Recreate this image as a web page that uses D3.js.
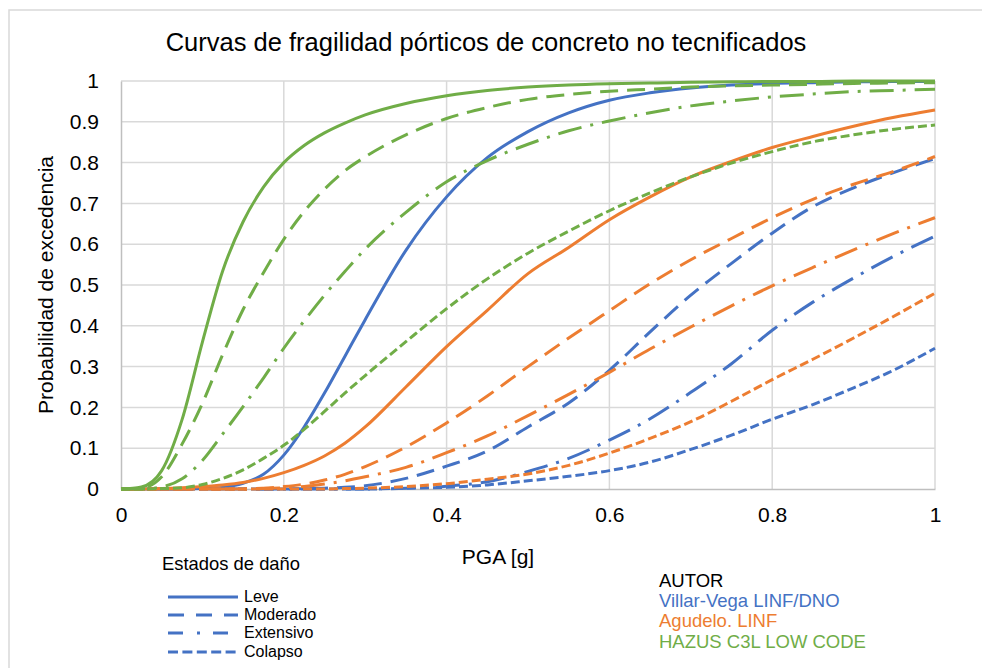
<!DOCTYPE html>
<html><head><meta charset="utf-8">
<script src="https://cdn.jsdelivr.net/npm/d3@7"></script>
<style>
html,body{margin:0;padding:0;background:#fff;}
svg{display:block;}
text{font-family:"Liberation Sans",Arial,sans-serif;}
</style></head>
<body>
<svg id="chart" width="982" height="668"></svg>
<script>
// ---------- DATA ----------
const pga = [0,0.025,0.05,0.075,0.1,0.125,0.15,0.175,0.2,0.225,0.25,0.275,0.3,0.35,0.4,0.45,0.5,0.55,0.6,0.65,0.7,0.75,0.8,0.85,0.9,0.95,1.0];

const villarLeve      = [0,0,0,0,0.001,0.004,0.014,0.036,0.083,0.152,0.235,0.325,0.415,0.585,0.716,0.812,0.876,0.922,0.953,0.971,0.983,0.99,0.994,0.996,0.998,0.999,0.999];
const villarModerado  = [0,0,0,0,0,0,0,0,0,0.001,0.002,0.004,0.008,0.026,0.056,0.093,0.152,0.211,0.291,0.385,0.475,0.553,0.627,0.692,0.738,0.776,0.81];
const villarExtensivo = [0,0,0,0,0,0,0,0,0,0,0,0,0,0.002,0.007,0.018,0.043,0.075,0.12,0.172,0.237,0.307,0.389,0.458,0.517,0.571,0.62];
const villarColapso   = [0,0,0,0,0,0,0,0,0,0,0,0,0,0.002,0.004,0.01,0.02,0.031,0.045,0.066,0.097,0.132,0.171,0.207,0.248,0.292,0.345];

const agudeloLeve      = [0,0,0.001,0.003,0.006,0.01,0.016,0.026,0.04,0.058,0.081,0.112,0.152,0.25,0.349,0.438,0.528,0.592,0.66,0.716,0.765,0.803,0.837,0.864,0.889,0.911,0.929];
const agudeloModerado  = [0,0,0,0,0,0,0,0.002,0.006,0.012,0.022,0.036,0.055,0.103,0.162,0.228,0.3,0.37,0.437,0.503,0.562,0.614,0.665,0.71,0.747,0.779,0.815];
const agudeloExtensivo = [0,0,0,0,0,0,0,0.001,0.003,0.006,0.012,0.02,0.03,0.053,0.089,0.13,0.18,0.232,0.286,0.343,0.397,0.449,0.498,0.543,0.586,0.627,0.665];
const agudeloColapso   = [0,0,0,0,0,0,0,0,0,0,0,0.001,0.002,0.006,0.013,0.024,0.037,0.058,0.088,0.124,0.165,0.215,0.268,0.318,0.37,0.424,0.48];

const hazusLeve      = [0,0.005,0.045,0.17,0.36,0.535,0.655,0.74,0.80,0.842,0.873,0.897,0.917,0.945,0.964,0.977,0.985,0.99,0.993,0.995,0.997,0.998,0.999,0.999,1,1,1];
const hazusModerado  = [0,0.002,0.03,0.11,0.21,0.33,0.44,0.53,0.612,0.68,0.735,0.78,0.814,0.868,0.908,0.935,0.955,0.967,0.975,0.98,0.985,0.988,0.99,0.992,0.994,0.995,0.996];
const hazusExtensivo = [0,0,0.005,0.025,0.07,0.135,0.202,0.272,0.345,0.412,0.475,0.533,0.588,0.678,0.753,0.805,0.845,0.878,0.902,0.922,0.939,0.951,0.961,0.968,0.974,0.977,0.98];
const hazusColapso   = [0,0,0.001,0.003,0.011,0.026,0.047,0.075,0.107,0.146,0.19,0.235,0.278,0.361,0.442,0.515,0.578,0.632,0.682,0.726,0.765,0.799,0.827,0.851,0.868,0.882,0.892];

const yTicks = [0,0.1,0.2,0.3,0.4,0.5,0.6,0.7,0.8,0.9,1];
const xTicks = [0,0.2,0.4,0.6,0.8,1];
const states = ["Leve","Moderado","Extensivo","Colapso"];
const authors = ["Villar-Vega LINF/DNO","Agudelo. LINF","HAZUS C3L LOW CODE"];

// ---------- STYLE ----------
const colors = ["#4472C4","#ED7D31","#70AD47"];
const dashes = [null,"18,9","24,9,3,9","9,4"];
const legendDashes = [null,"16,12","15,14,3,13","10,4.4"];

const series = [
  {a:0, s:0, v:villarLeve},{a:0, s:1, v:villarModerado},{a:0, s:2, v:villarExtensivo},{a:0, s:3, v:villarColapso},
  {a:1, s:0, v:agudeloLeve},{a:1, s:1, v:agudeloModerado},{a:1, s:2, v:agudeloExtensivo},{a:1, s:3, v:agudeloColapso},
  {a:2, s:0, v:hazusLeve},{a:2, s:1, v:hazusModerado},{a:2, s:2, v:hazusExtensivo},{a:2, s:3, v:hazusColapso}
];

const svg = d3.select("#chart");
const x = d3.scaleLinear().domain([0,1]).range([121,935]);
const y = d3.scaleLinear().domain([0,1]).range([489,81]);

// outer frame
svg.append("rect").attr("x",9).attr("y",10).attr("width",1000).attr("height",700)
  .attr("fill","#fff").attr("stroke","#d9d9d9").attr("stroke-width",1.5);

// title
svg.append("text").attr("x",486).attr("y",51).attr("text-anchor","middle")
  .attr("font-size",25.5).attr("fill","#000")
  .text("Curvas de fragilidad pórticos de concreto no tecnificados");

// grid
svg.append("g").selectAll("line").data(yTicks.filter(d=>d>0)).join("line")
  .attr("x1",x(0)).attr("x2",x(1)).attr("y1",d=>y(d)).attr("y2",d=>y(d))
  .attr("stroke","#d9d9d9").attr("stroke-width",1.5);
svg.append("g").selectAll("line").data(xTicks.filter(d=>d>0)).join("line")
  .attr("y1",y(0)).attr("y2",y(1)).attr("x1",d=>x(d)).attr("x2",d=>x(d))
  .attr("stroke","#d9d9d9").attr("stroke-width",1.5);

// axes
const yAxis = svg.append("g").attr("transform",`translate(${x(0)},0)`)
  .call(d3.axisLeft(y).tickValues(yTicks).tickSize(0).tickPadding(22).tickFormat(d3.format("~g")));
const xAxis = svg.append("g").attr("transform",`translate(0,${y(0)})`)
  .call(d3.axisBottom(x).tickValues(xTicks).tickSize(0).tickPadding(18).tickFormat(d3.format("~g")));
[yAxis,xAxis].forEach(g=>{
  g.select(".domain").attr("stroke","#bfbfbf").attr("stroke-width",1.5);
  g.selectAll("text").attr("font-size",21).attr("fill","#000").attr("font-family","Liberation Sans, Arial, sans-serif");
});

// axis titles
svg.append("text").attr("x",498).attr("y",558).attr("text-anchor","middle").attr("dominant-baseline","middle")
  .attr("font-size",21).attr("fill","#000").text("PGA [g]");
svg.append("text").attr("transform",`translate(47,${(y(0)+y(1))/2}) rotate(-90)`).attr("text-anchor","middle")
  .attr("dominant-baseline","middle").attr("font-size",21).attr("fill","#000").text("Probabilidad de excedencia");

// curves
const line = d3.line().x(d=>x(d[0])).y(d=>y(d[1])).curve(d3.curveMonotoneX);
svg.append("g").selectAll("path").data(series).join("path")
  .attr("d",d=>line(pga.map((p,i)=>[p,d.v[i]])))
  .attr("fill","none").attr("stroke",d=>colors[d.a]).attr("stroke-width",3)
  .attr("stroke-dasharray",d=>dashes[d.s]);

// legend: states
svg.append("text").attr("x",162).attr("y",565).attr("dominant-baseline","middle")
  .attr("font-size",18.4).attr("fill","#000").text("Estados de daño");
const ly = [597,615,633,652];
const lg = svg.append("g").selectAll("g").data(states).join("g");
lg.append("line").attr("x1",168).attr("x2",238).attr("y1",(d,i)=>ly[i]).attr("y2",(d,i)=>ly[i])
  .attr("stroke",colors[0]).attr("stroke-width",3).attr("stroke-dasharray",(d,i)=>legendDashes[i]);
lg.append("text").attr("x",244).attr("y",(d,i)=>ly[i]+1).attr("dominant-baseline","middle")
  .attr("font-size",16).attr("fill","#000").text(d=>d);

// legend: authors
svg.append("text").attr("x",659).attr("y",582).attr("dominant-baseline","middle")
  .attr("font-size",18.5).attr("fill","#000").text("AUTOR");
svg.append("g").selectAll("text").data(authors).join("text")
  .attr("x",659).attr("y",(d,i)=>602+i*20.5).attr("dominant-baseline","middle")
  .attr("font-size",18.5).attr("fill",(d,i)=>colors[i]).text(d=>d);
</script>
</body></html>
